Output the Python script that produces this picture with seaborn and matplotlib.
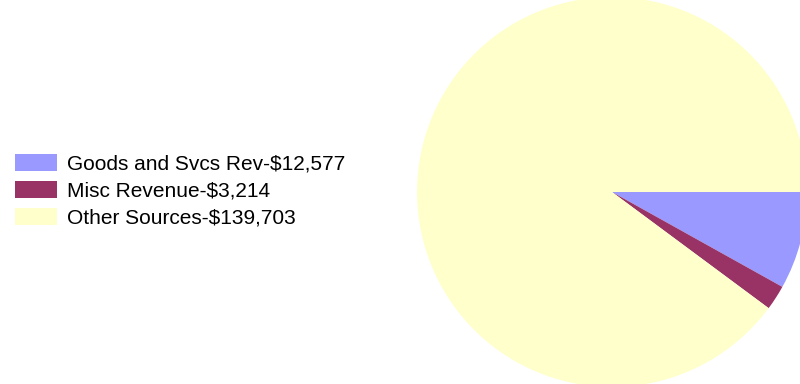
import matplotlib
matplotlib.use("Agg")
import matplotlib.pyplot as plt
import matplotlib.patches as mpatches
import seaborn as sns

# Revenue sources and amounts
categories = ["Goods and Svcs Rev", "Misc Revenue", "Other Sources"]
amounts = [12577, 3214, 139703]
colors = ["#9999FF", "#993366", "#FFFFCC"]

sns.set_theme(style="white")
plt.rcParams["font.family"] = ["Liberation Sans", "DejaVu Sans"]

fig = plt.figure(figsize=(8, 3.84), dpi=100)
ax = fig.add_axes([0, 0, 1, 1])

ax.pie(amounts, colors=colors, startangle=0, counterclock=False,
       center=(612, 192), radius=195, frame=True,
       wedgeprops=dict(linewidth=0))
ax.set_xlim(0, 800)
ax.set_ylim(0, 384)
ax.set_aspect("equal")
ax.axis("off")

labels = [f"{c}-${v:,}" for c, v in zip(categories, amounts)]
handles = [mpatches.Patch(facecolor=c, edgecolor="none") for c in colors]
fs = 15
fig.legend(handles, labels, loc="center left", bbox_to_anchor=(15 / 800, 0.503),
           frameon=False, fontsize=fs, labelcolor="black",
           borderpad=0, borderaxespad=0,
           handlelength=2.02, handleheight=0.87, handletextpad=0.48,
           labelspacing=0.36)

fig.savefig("out.png", dpi=100)
